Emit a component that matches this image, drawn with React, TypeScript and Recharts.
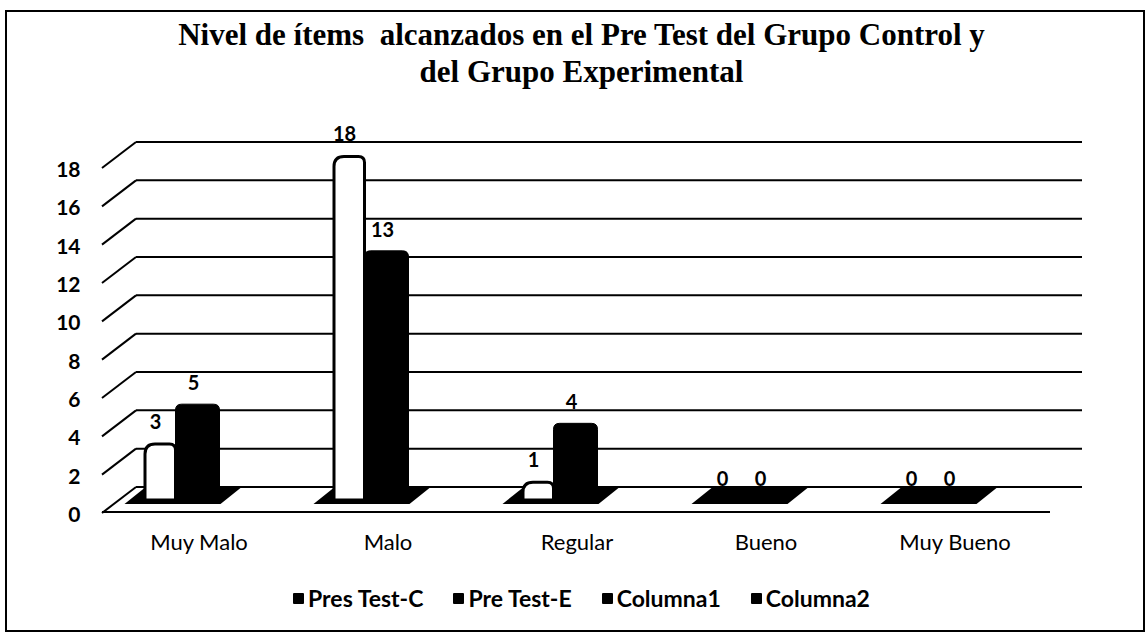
import React from 'react';
import { BarChart, Bar, XAxis, YAxis, CartesianGrid, LabelList } from 'recharts';

const titleLines = ['Nivel de ítems  alcanzados en el Pre Test del Grupo Control y', 'del Grupo Experimental'];
const categories = ['Muy Malo', 'Malo', 'Regular', 'Bueno', 'Muy Bueno'];
const presTestC = [3, 18, 1, 0, 0];
const preTestE = [5, 13, 4, 0, 0];
const yTicks = [0, 2, 4, 6, 8, 10, 12, 14, 16, 18];
const seriesNames = ['Pres Test-C', 'Pre Test-E'];
const legendNames = ['Pres Test-C', 'Pre Test-E', 'Columna1', 'Columna2'];

const data = categories.map((name, i) => ({ name, c: presTestC[i], e: preTestE[i] }));

const SANS = 'Lato, "Open Sans", sans-serif';
const SHIFT = -18;
const DEPTH = 13;

function topRoundedPath(x: number, y: number, w: number, h: number, rl: number, rr: number) {
  const b = y + h;
  const l = Math.min(rl, h, w / 2);
  const r = Math.min(rr, h, w / 2);
  return `M${x},${b} L${x},${y + l} Q${x},${y} ${x + l},${y} L${x + w - r},${y} Q${x + w},${y} ${x + w},${y + r} L${x + w},${b} Z`;
}

const WhiteBar = (p: any) => {
  const { x, y, width, height } = p;
  if (!height || height <= 0.5) return <g />;
  const bx = x + SHIFT + 1.5;
  const bw = width - 6 - 1.5;
  return <path d={topRoundedPath(bx, y + 1.5, bw, height - 1.5, 10, 6)} fill="#fff" stroke="#000" strokeWidth={3} />;
};

const BlackBar = (p: any) => {
  const { x, y, width, height } = p;
  if (!height || height <= 0.5) return <g />;
  const bx = x + SHIFT - 6;
  const bw = width + 6;
  return <path d={topRoundedPath(bx, y, bw, height, 6, 6)} fill="#000" stroke="#000" strokeWidth={1} />;
};

const FloorBase = (p: any) => {
  const { x, y, height } = p;
  const y0 = y + height;
  const d = `M${x - 37},${y0 + 4} L${x + 59},${y0 + 4} L${x + 79},${y0 - 12} L${x - 17},${y0 - 12} Z`;
  return <path d={d} fill="#000" />;
};

const gridLine = (p: any) => {
  const { x1, x2, y1, index } = p;
  const yb = y1 - DEPTH;
  const yf = y1 + DEPTH;
  const isFloor = p.y != null && p.height != null ? Math.abs(y1 - (p.y + p.height)) < 0.5 : index === 0;
  return (
    <g key={`gl-${index}`}>
      <line x1={x1 + 31.5} x2={x2 + 32.5} y1={yb} y2={yb} stroke="#000" strokeWidth={2} />
      <line x1={x1 - 2.5} y1={yf} x2={x1 + 31.5} y2={yb} stroke="#000" strokeWidth={2} />
      {isFloor ? <line x1={x1 - 2.5} x2={x2 + 0.5} y1={y1 + 12} y2={y1 + 12} stroke="#000" strokeWidth={2} /> : null}
    </g>
  );
};

const YTick = (p: any) => {
  const { x, y, payload } = p;
  return (
    <text x={x - 24} y={y + 22} textAnchor="end" fontFamily={SANS} fontWeight={700} fontSize={21} fill="#000">
      {payload.value}
    </text>
  );
};

const XTick = (p: any) => {
  const { x, y, payload } = p;
  return (
    <text x={x} y={y + 50} textAnchor="middle" fontFamily={SANS} fontSize={22} fill="#000">
      {payload.value}
    </text>
  );
};

const ValueLabel = (p: any) => {
  const { x, y, width, value } = p;
  return (
    <text x={x + width / 2 - 25} y={y - 14} textAnchor="middle" fontFamily={SANS} fontWeight={700} fontSize={20} fill="#000">
      {value}
    </text>
  );
};

export default function App() {
  return (
    <div style={{ position: 'absolute', left: 0, top: 0, width: 1147, height: 634, background: '#fff' }}>
      <div
        style={{
          position: 'absolute', left: 5, top: 10, width: 1136, height: 618,
          border: '2px solid #000', boxSizing: 'content-box',
        }}
      />
      <div
        style={{
          position: 'absolute', left: 8, top: 16, width: 1147, textAlign: 'center',
          fontFamily: '"Liberation Serif", "Times New Roman", serif', fontWeight: 700,
          fontSize: 31, lineHeight: '37px', color: '#000', whiteSpace: 'pre',
        }}
      >
        {titleLines.map((t) => (
          <div key={t}>{t}</div>
        ))}
      </div>
      <div style={{ position: 'absolute', left: 0, top: 0 }}>
        <BarChart
          width={1147}
          height={634}
          data={data}
          margin={{ top: 155, right: 97.5, bottom: 104, left: 24.5 }}
          barGap={0}
        >
          <CartesianGrid vertical={false} horizontal={gridLine} />
          <XAxis dataKey="name" axisLine={false} tickLine={false} tickSize={0} tickMargin={0} height={30} tick={<XTick />} interval={0} />
          <YAxis
            domain={[0, 18]}
            ticks={yTicks}
            axisLine={false}
            tickLine={false}
            tickSize={0}
            tickMargin={0}
            width={80}
            tick={<YTick />}
            interval={0}
          />
          <Bar dataKey="c" name={seriesNames[0]} barSize={38} shape={<WhiteBar />} background={<FloorBase />} isAnimationActive={false}>
            <LabelList dataKey="c" content={<ValueLabel />} />
          </Bar>
          <Bar dataKey="e" name={seriesNames[1]} barSize={38} shape={<BlackBar />} isAnimationActive={false}>
            <LabelList dataKey="e" content={<ValueLabel />} />
          </Bar>
        </BarChart>
      </div>
      <div
        style={{
          position: 'absolute', left: 8, top: 584, width: 1147, display: 'flex', justifyContent: 'center',
          alignItems: 'center', gap: 30, fontFamily: SANS, fontWeight: 700, fontSize: 23, color: '#000',
        }}
      >
        {legendNames.map((n) => (
          <div key={n} style={{ display: 'flex', alignItems: 'center' }}>
            <div style={{ width: 11, height: 11, background: '#000', marginRight: 4, borderRadius: 1 }} />
            <span>{n}</span>
          </div>
        ))}
      </div>
    </div>
  );
}
